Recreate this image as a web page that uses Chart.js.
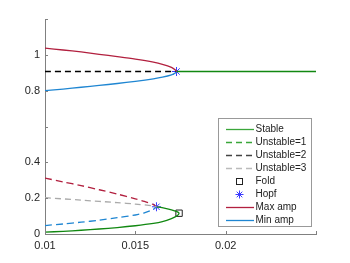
<!DOCTYPE html>
<html><head><meta charset="utf-8">
<script src="https://cdn.jsdelivr.net/npm/chart.js@4"></script>
<style>html,body{margin:0;padding:0;background:#fff}#wrap{width:350px;height:263px}</style>
</head><body><div id="wrap"><canvas id="c" width="350" height="263"></canvas></div>
<script>
// ---- data ----
const maxAmpX = [0.010,0.011,0.012,0.013,0.014,0.015,0.016,0.0165,0.017,0.0172,0.01728];
const maxAmpY = [1.037,1.027,1.016,1.003,0.990,0.976,0.959,0.947,0.930,0.917,0.907];
const minAmpX = [0.010,0.011,0.012,0.013,0.014,0.015,0.016,0.0165,0.017,0.0172,0.01728];
const minAmpY = [0.800,0.809,0.819,0.829,0.840,0.852,0.866,0.875,0.888,0.898,0.907];
const eqStableX = [0.01728,0.025];
const eqStableY = [0.907,0.907];
const eqUnst2X = [0.010,0.01728];
const eqUnst2Y = [0.907,0.907];
const lowStableX = [0.010,0.011,0.012,0.013,0.014,0.015,0.016,0.0165,0.017,0.0173,0.01742,0.0173,0.017,0.0166,0.01617];
const lowStableY = [0.010,0.015,0.021,0.028,0.036,0.046,0.059,0.069,0.086,0.101,0.116,0.125,0.135,0.144,0.152];
const lowMaxX = [0.010,0.011,0.012,0.013,0.014,0.015,0.0155,0.016,0.01617];
const lowMaxY = [0.312,0.291,0.270,0.247,0.223,0.196,0.182,0.164,0.152];
const lowMinX = [0.010,0.011,0.012,0.013,0.014,0.015,0.0155,0.016,0.01617];
const lowMinY = [0.047,0.056,0.066,0.077,0.091,0.106,0.118,0.138,0.152];
const unst3X = [0.010,0.012,0.014,0.015,0.016,0.01617];
const unst3Y = [0.203,0.189,0.175,0.167,0.157,0.152];
const hopfX = [0.01728,0.01617];
const hopfY = [0.907,0.152];
const foldX = [0.01742];
const foldY = [0.116];
const xTickLabels = {"0.01":"0.01","0.015":"0.015","0.02":"0.02"};
const yTickLabels = {"0":"0","0.2":"0.2","0.4":"0.4","0.8":"0.8","1":"1"};
const legendLabels = ["Stable","Unstable=1","Unstable=2","Unstable=3","Fold","Hopf","Max amp","Min amp"];

const RED='#B2203F', BLUE='#1f86d2', GREEN='#118811', HOPF='#3a3aff';
const pts=(xs,ys)=>xs.map((x,i)=>({x:x,y:ys[i]}));
const line=(xs,ys,color,dash)=>({data:pts(xs,ys),borderColor:color,borderWidth:1.3,borderDash:dash||[],pointRadius:0,fill:false,tension:0.3,showLine:true});

const ds=[
  line(maxAmpX,maxAmpY,RED),
  line(minAmpX,minAmpY,BLUE),
  line(eqStableX,eqStableY,GREEN),
  line(eqUnst2X,eqUnst2Y,'#000',[6,4]),
  line(unst3X,unst3Y,'#aaaaaa',[6,4]),
  line(lowMaxX,lowMaxY,RED,[7,4]),
  line(lowMinX,lowMinY,BLUE,[7,4]),
  line(lowStableX,lowStableY,GREEN),
  {data:pts(foldX,foldY),showLine:false,pointStyle:'rect',pointRadius:4.5,borderColor:'#222',backgroundColor:'rgba(0,0,0,0)',borderWidth:1},
  {data:pts(hopfX,hopfY),showLine:false,pointStyle:'star',pointRadius:4.5,borderColor:HOPF,backgroundColor:HOPF,borderWidth:1}
];

const inTicks={id:'inTicks',afterDraw(ch){
  const c=ch.ctx,a=ch.chartArea,x=ch.scales.x,y=ch.scales.y;
  c.save();c.strokeStyle='#808080';c.lineWidth=1;c.beginPath();
  x.ticks.forEach(t=>{const p=Math.round(x.getPixelForValue(t.value))+0.5;c.moveTo(p,a.bottom);c.lineTo(p,a.bottom-3);});
  y.ticks.forEach(t=>{const p=Math.round(y.getPixelForValue(t.value))+0.5;c.moveTo(a.left,p);c.lineTo(a.left+3,p);});
  c.stroke();
  // legend
  const L=218.5,T=118.5,W=93,H=108;
  c.fillStyle='#fff';c.fillRect(L,T,W,H);c.strokeStyle='#999';c.strokeRect(L,T,W,H);
  c.font='10px "Liberation Sans", Arial, sans-serif';c.textBaseline='middle';
  const styles=[
    {t:'l',col:'#3aa63a',dash:[]},{t:'l',col:'#3aa63a',dash:[6,4]},{t:'l',col:'#444',dash:[6,4]},{t:'l',col:'#bbb',dash:[6,4]},
    {t:'fold'},{t:'hopf'},{t:'l',col:RED,dash:[]},{t:'l',col:BLUE,dash:[]}];
  legendLabels.forEach((lab,i)=>{
    const yy=129.5+i*13, s=styles[i];
    if(s.t==='l'){c.setLineDash(s.dash);c.strokeStyle=s.col;c.lineWidth=1.3;c.beginPath();c.moveTo(226,yy);c.lineTo(254,yy);c.stroke();c.setLineDash([]);}
    else if(s.t==='fold'){c.strokeStyle='#222';c.lineWidth=1;c.strokeRect(236.5,yy-3,6,6);}
    else {c.strokeStyle=HOPF;c.lineWidth=1;c.beginPath();const r=4;
      c.moveTo(239.5-r,yy);c.lineTo(239.5+r,yy);c.moveTo(239.5,yy-r);c.lineTo(239.5,yy+r);
      const d=r*0.7;c.moveTo(239.5-d,yy-d);c.lineTo(239.5+d,yy+d);c.moveTo(239.5-d,yy+d);c.lineTo(239.5+d,yy-d);c.stroke();}
    c.fillStyle='#222';c.fillText(lab,255.5,yy);
  });
  c.restore();
}};

new Chart(document.getElementById('c'),{
  type:'scatter',
  data:{datasets:ds},
  options:{
    responsive:false,animation:false,
    layout:{padding:{top:19,right:34,left:0,bottom:0}},
    plugins:{legend:{display:false},tooltip:{enabled:false}},
    scales:{
      x:{type:'linear',min:0.01,max:0.025,
        afterBuildTicks:s=>{s.ticks=[0.01,0.015,0.02,0.025].map(v=>({value:v}));},
        afterFit:s=>{s.height=29;},
        grid:{display:false,drawTicks:false},border:{display:true,color:'#808080'},
        ticks:{padding:5,color:'#262626',font:{family:'"Liberation Sans", Arial, sans-serif',size:11},maxRotation:0,
          callback:v=>xTickLabels[String(+v.toFixed(3))]||''}},
      y:{type:'linear',min:0,max:1.2,
        afterBuildTicks:s=>{s.ticks=[0,0.2,0.4,0.6,0.8,1,1.2].map(v=>({value:v}));},
        afterFit:s=>{s.width=45;},
        grid:{display:false,drawTicks:false},border:{display:true,color:'#808080'},
        ticks:{padding:5,color:'#262626',font:{family:'"Liberation Sans", Arial, sans-serif',size:11},
          callback:v=>yTickLabels[String(+v.toFixed(1))]||''}}
    }
  },
  plugins:[inTicks]
});
</script></body></html>
